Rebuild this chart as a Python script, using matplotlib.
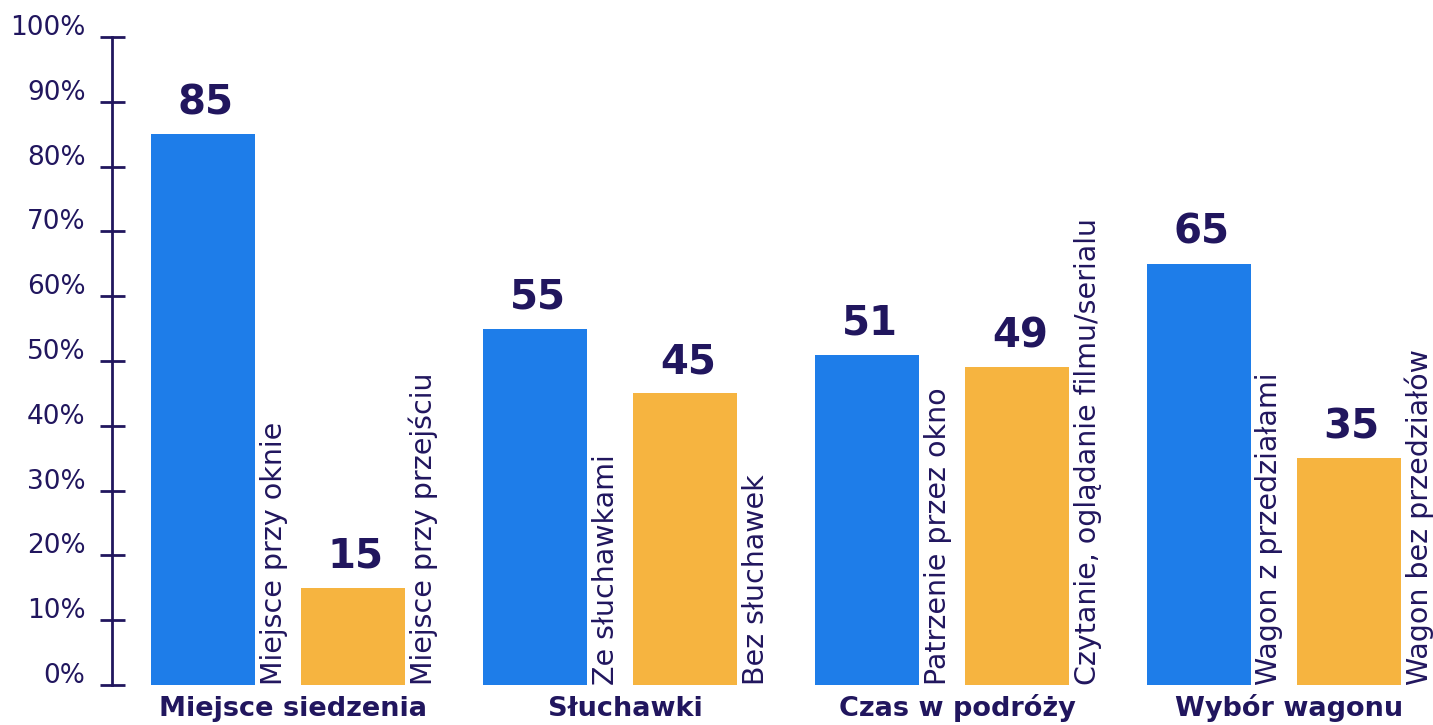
import matplotlib
matplotlib.use("Agg")
import matplotlib.pyplot as plt
import matplotlib.transforms as mtransforms
import numpy as np

categories = ["Miejsce siedzenia", "Słuchawki", "Czas w podróży", "Wybór wagonu"]
blue_labels = ["Miejsce przy oknie", "Ze słuchawkami", "Patrzenie przez okno", "Wagon z przedziałami"]
orange_labels = ["Miejsce przy przejściu", "Bez słuchawek", "Czytanie, oglądanie filmu/serialu", "Wagon bez przedziałów"]
blue_values = [85, 55, 51, 65]
orange_values = [15, 45, 49, 35]
yticks = [0, 10, 20, 30, 40, 50, 60, 70, 80, 90, 100]

NAVY = "#21165e"
BLUE = "#1e7de9"
ORANGE = "#f6b440"
FONT = "DejaVu Sans"

plt.rcParams["font.family"] = [FONT]

fig = plt.figure(figsize=(14.33, 7.25), dpi=100)
ax = fig.add_axes([112 / 1433, 40 / 725, 1 - 112 / 1433, (685 - 37) / 725])

x = np.arange(len(categories))
off = 0.226
w = 0.313
ax.bar(x - off, blue_values, width=w, color=BLUE, zorder=2)
ax.bar(x + off, orange_values, width=w, color=ORANGE, zorder=2)

ax.set_xlim(-0.5, 3.479)
ax.set_ylim(0, 100)

# value labels
for xi, v in zip(x - off, blue_values):
    ax.annotate(str(v), (xi, v), xytext=(2, 8), textcoords="offset points",
                ha="center", va="bottom", fontsize=29, fontweight="heavy", color=NAVY)
for xi, v in zip(x + off, orange_values):
    ax.annotate(str(v), (xi, v), xytext=(2, 8), textcoords="offset points",
                ha="center", va="bottom", fontsize=29, fontweight="heavy", color=NAVY)

# vertical labels next to bars
lab_dx = w / 2 + 0.056
for xi, lab in zip(x - off, blue_labels):
    ax.text(xi + lab_dx, 0, lab, rotation=90, ha="center", va="bottom",
            fontsize=20.5, color=NAVY)
for xi, lab in zip(x + off, orange_labels):
    ax.text(xi + lab_dx, 0, lab, rotation=90, ha="center", va="bottom",
            fontsize=20.5, color=NAVY)

# category labels
for xi, cat in zip(x, categories):
    ax.annotate(cat, (xi + 0.045, 0), xytext=(0, -22.5), textcoords="offset points",
                ha="center", va="baseline", fontsize=19.5, fontweight="bold",
                color=NAVY, annotation_clip=False)

# axes styling
for s in ["top", "right", "bottom"]:
    ax.spines[s].set_visible(False)
ax.spines["left"].set_color(NAVY)
ax.spines["left"].set_linewidth(2)
ax.set_xticks([])
ax.set_yticks(yticks)
ax.set_yticklabels([f"{t}%" for t in yticks])
ax.tick_params(axis="y", direction="inout", length=18, width=2, color=NAVY,
               labelcolor=NAVY, labelsize=19, pad=10)
shift = mtransforms.ScaledTranslation(0, 12 / 100, fig.dpi_scale_trans)
for lbl in ax.get_yticklabels():
    lbl.set_transform(lbl.get_transform() + shift)

fig.savefig("out.png", dpi=100)
